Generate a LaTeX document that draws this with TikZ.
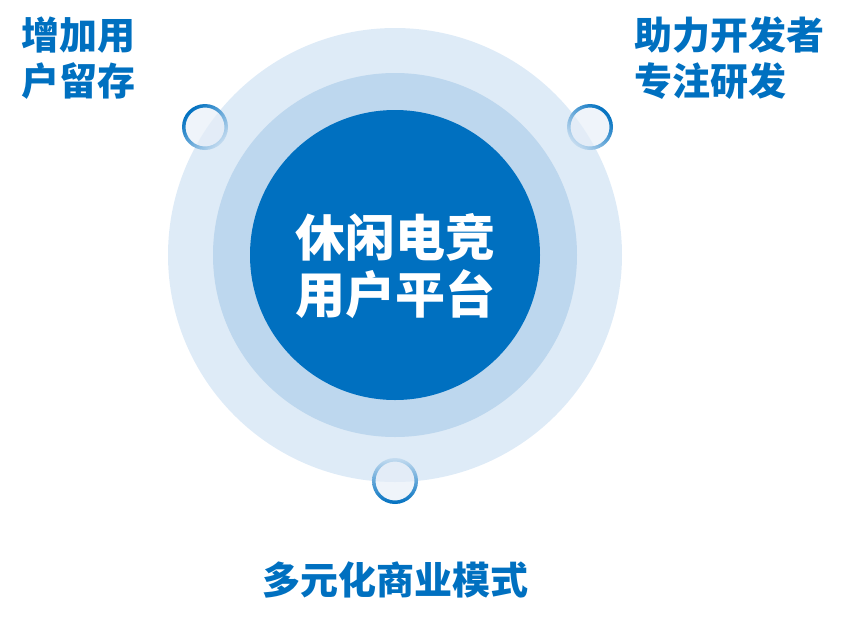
\documentclass[tikz,border=0pt]{standalone}
\usepackage{fontspec}
\usepackage{xcolor}
\usepackage{tikz}
\usetikzlibrary{positioning}
\newfontfamily\cjk{Noto Sans CJK SC}

\definecolor{mainblue}{HTML}{0070C0}
\definecolor{ringouter}{HTML}{DEEBF7}
\definecolor{ringmid}{HTML}{BDD7EE}
\definecolor{ringlight}{HTML}{C5DCF0}
\definecolor{dotfill}{HTML}{E6EEF8}

\begin{document}
\begin{tikzpicture}[
    x=1pt, y=-1pt,
    disc/.style={circle, inner sep=0pt, draw=none},
    dot/.style={circle, inner sep=0pt, minimum size=39pt, fill=dotfill, fill opacity=0.65},
    label/.style={font=\cjk\bfseries\fontsize{38}{46}\selectfont, text=mainblue, inner sep=0pt, align=left},
    title/.style={font=\cjk\bfseries\fontsize{50}{57}\selectfont, text=white, inner sep=0pt, align=center}
]
\useasboundingbox (0,0) rectangle (847,625);

% Circles
\node[disc, fill=ringouter, minimum size=454pt] (outer) at (395,255) {};
\node[disc, fill=ringmid, minimum size=364pt] (middle) at (outer) {};
\node[disc, fill=mainblue, minimum size=290pt] (core) at (outer) {};

% Small rings
\node[dot] (dotleft) at (205,127) {};
\node[dot] (dotright) at (590,127) {};
\node[dot] (dotbottom) at (395,481) {};
\shade[even odd rule, top color=mainblue, bottom color=ringlight, shading angle=45]
    (dotleft) circle (23) circle (19.5);
\shade[even odd rule, top color=mainblue, bottom color=ringlight, shading angle=-45]
    (dotright) circle (23) circle (19.5);
\shade[even odd rule, top color=mainblue, bottom color=ringlight, shading angle=180]
    (dotbottom) circle (23) circle (19.5);

% Texts
\node[title] (centre) at (395,266) {休闲电竞\\用户平台};
\node[label, anchor=west] (retain) at (21,58) {增加用\\户留存};
\node[label, anchor=west] (develop) at (634,58) {助力开发者\\专注研发};
\node[label, align=center] (business) at (395,580) {多元化商业模式};

\end{tikzpicture}
\end{document}
